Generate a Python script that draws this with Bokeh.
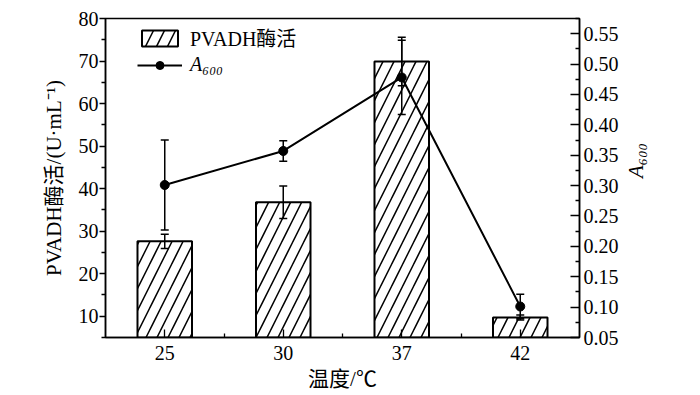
import math
from bokeh.plotting import figure
from bokeh.models import (Range1d, LinearAxis, FixedTicker, PrintfTickFormatter,
                          Whisker, TeeHead, ColumnDataSource, Legend, LegendItem)
from bokeh.embed import file_html
from bokeh.resources import INLINE

temps = ["25", "30", "37", "42"]
activity = [27.6, 36.8, 69.9, 9.7]
activity_err = [1.7, 3.8, 5.7, 0.6]
a600 = [0.301, 0.357, 0.478, 0.101]
a600_err = [0.074, 0.017, 0.061, 0.020]

left_ticks = [10, 20, 30, 40, 50, 60, 70, 80]
left_minor = [5, 15, 25, 35, 45, 55, 65, 75]
right_ticks = [0.05, 0.10, 0.15, 0.20, 0.25, 0.30, 0.35, 0.40, 0.45, 0.50, 0.55]
right_minor = [0.075, 0.125, 0.175, 0.225, 0.275, 0.325, 0.375, 0.425, 0.475, 0.525, 0.575]

x = list(range(len(temps)))
src = ColumnDataSource(dict(
    x=x,
    act=activity,
    act_lo=[v - e for v, e in zip(activity, activity_err)],
    act_hi=[v + e for v, e in zip(activity, activity_err)],
    a=a600,
    a_lo=[v - e for v, e in zip(a600, a600_err)],
    a_hi=[v + e for v, e in zip(a600, a600_err)],
))

SERIF = "Liberation Serif, Noto Sans CJK SC"
FS = "20px"

p = figure(width=692, height=393, x_range=Range1d(-0.5, 3.5), y_range=Range1d(5, 80),
           output_backend="svg", toolbar_location=None,
           min_border_left=105, min_border_right=113, min_border_top=18, min_border_bottom=55)
p.extra_y_ranges = {"a": Range1d(0.05, 0.575)}
p.xgrid.visible = False
p.ygrid.visible = False
p.outline_line_color = "black"
p.outline_line_width = 1.5
p.outline_line_alpha = 1
p.background_fill_color = "white"
p.border_fill_color = "white"

# x axis
xa = p.xaxis[0]
xa.ticker = FixedTicker(ticks=x, minor_ticks=[i + 0.5 for i in x[:-1]])
xa.major_label_overrides = {i: t for i, t in zip(x, temps)}
xa.axis_label = "温度/℃"

# left axis
ya = p.yaxis[0]
ya.ticker = FixedTicker(ticks=left_ticks, minor_ticks=left_minor)
ya.axis_label = "PVADH酶活/(U·mL⁻¹)"

ra = LinearAxis(y_range_name="a", ticker=FixedTicker(ticks=right_ticks, minor_ticks=right_minor),
                formatter=PrintfTickFormatter(format="%.2f"), axis_label="A₆₀₀")
p.add_layout(ra, "right")

for ax in (xa, ya, ra):
    ax.axis_line_color = "black"
    ax.axis_line_width = 1.5
    ax.major_tick_line_color = "black"
    ax.minor_tick_line_color = "black"
    ax.major_tick_line_width = 1.3
    ax.minor_tick_line_width = 1.3
    ax.major_label_text_font = SERIF
    ax.major_label_text_font_size = FS
    ax.major_label_text_color = "black"
    ax.axis_label_text_font = SERIF
    ax.axis_label_text_font_size = "21px"
    ax.axis_label_text_color = "black"
    ax.axis_label_text_font_style = "normal"

xa.major_tick_in = 8
xa.major_tick_out = 0
xa.minor_tick_in = 4
xa.minor_tick_out = 0
xa.major_label_standoff = 8
xa.axis_label_standoff = 4

ya.major_tick_in = 0
ya.major_tick_out = 6
ya.minor_tick_in = 0
ya.minor_tick_out = 4
ya.major_label_standoff = 1
ya.axis_label_standoff = 10

ra.major_tick_in = 9
ra.major_tick_out = 0
ra.minor_tick_in = 4
ra.minor_tick_out = 0
ra.major_label_standoff = 4
ra.axis_label_standoff = 14
ra.axis_label_text_font_style = "italic"
ra.axis_label_orientation = math.pi / 2

bars = p.vbar(x="x", top="act", width=0.46, source=src, fill_color="white",
              line_color="black", line_width=2, hatch_pattern="/", hatch_color="black",
              hatch_scale=22, hatch_weight=1.5)

w1 = Whisker(base="x", upper="act_hi", lower="act_lo", source=src, dimension="height",
             line_width=1.5, line_color="black", level="overlay",
             upper_head=TeeHead(size=8, line_width=1.5, line_color="black"),
             lower_head=TeeHead(size=8, line_width=1.5, line_color="black"))
p.add_layout(w1)

ln = p.line("x", "a", source=src, y_range_name="a", line_width=2, line_color="black")
pts = p.scatter("x", "a", source=src, y_range_name="a", size=9, color="black")

w2 = Whisker(base="x", upper="a_hi", lower="a_lo", source=src, dimension="height",
             y_range_name="a", line_width=1.5, line_color="black", level="overlay",
             upper_head=TeeHead(size=8, line_width=1.5, line_color="black"),
             lower_head=TeeHead(size=8, line_width=1.5, line_color="black"))
p.add_layout(w2)


def make_legend(items, loc, style="normal"):
    lg = Legend(items=items, location=loc)
    lg.border_line_alpha = 0
    lg.background_fill_alpha = 0
    lg.padding = 0
    lg.margin = 0
    lg.spacing = 0
    lg.glyph_width = 45
    lg.glyph_height = 20
    lg.label_height = 20
    lg.label_standoff = 8
    lg.label_text_font = SERIF
    lg.label_text_font_size = FS
    lg.label_text_font_style = style
    lg.label_text_color = "black"
    return lg


leg1 = make_legend([LegendItem(label="PVADH酶活", renderers=[bars])], (32, 285))
leg2 = make_legend([LegendItem(label="A₆₀₀", renderers=[ln, pts])], (32, 261), "italic")
p.add_layout(leg1)
p.add_layout(leg2)

open("out.html", "w").write(file_html(p, INLINE))
